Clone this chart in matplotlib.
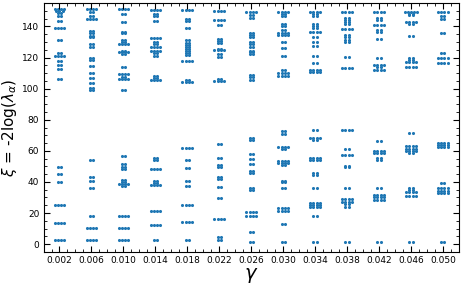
import numpy as np
import matplotlib.pyplot as plt
from matplotlib.ticker import MultipleLocator

# gamma values (x) and, per gamma, (xi value, number of points at that value)
gammas = [0.002, 0.006, 0.010, 0.014, 0.018, 0.022, 0.026,
          0.030, 0.034, 0.038, 0.042, 0.046, 0.050]

col_002 = [(151.1, 4), (149.8, 3), (148.8, 2), (147, 2), (143.6, 2), (138.9, 4), (131, 2),
           (122.8, 2), (120.7, 4), (117.7, 2), (115.1, 2), (112.5, 2), (106.5, 2),
           (49.5, 2), (44.8, 2), (39.7, 2), (25.1, 4), (13.9, 4), (2.8, 4)]
col_006 = [(151.3, 4), (149, 2), (147, 2), (144.7, 4), (137.2, 2), (135.7, 2), (134, 2),
           (133, 2), (128.8, 2), (127.1, 2), (119.8, 2), (118.5, 2), (114.7, 2), (110, 2),
           (107, 2), (103.5, 2), (100.1, 2), (99.2, 2),
           (53.8, 2), (42.9, 2), (40.3, 2), (36.4, 2), (18.4, 2), (10.5, 4), (2.8, 4)]
col_010 = [(150.9, 4), (148.1, 2), (143, 2), (136.5, 2), (135.5, 2), (131.4, 2), (129.7, 2),
           (128.6, 4), (124.5, 2), (123.7, 4), (122.4, 2), (113.8, 2), (109.5, 4), (107.8, 2),
           (106.3, 4), (99.2, 2),
           (56.4, 2), (51.4, 2), (49.9, 2), (48.4, 2), (41.4, 2), (39.7, 2), (38.6, 4),
           (37.1, 2), (18.4, 4), (10.5, 4), (2.8, 4)]
col_014 = [(150.7, 4), (148.1, 2), (146.8, 2), (143.2, 2), (132.3, 4), (129.7, 2), (128.4, 2),
           (126.7, 4), (124.1, 4), (122.8, 2), (121.3, 2), (108.3, 2), (106.8, 2), (105.3, 4),
           (55.1, 2), (53.8, 2), (48.4, 4), (40.7, 2), (39.2, 2), (37.9, 4), (21.2, 4),
           (12, 4), (2.8, 2)]
col_018 = [(150.5, 4), (145.1, 2), (143.4, 2), (139.1, 2), (131.4, 2), (129.3, 2), (128, 2),
           (126.7, 2), (125.4, 2), (124.1, 2), (122.8, 2), (121.8, 2), (117.7, 4), (105.5, 2),
           (104.4, 4),
           (62, 4), (54.2, 2), (48.9, 2), (40.7, 2), (37.1, 2), (25.1, 4), (14.1, 4), (2.8, 2)]
col_022 = [(149.8, 4), (144, 4), (141, 2), (132.1, 2), (130.8, 2), (129.5, 2), (125.8, 2),
           (124.8, 4), (122.6, 2), (120.3, 2), (106.3, 2), (104.8, 4),
           (64.1, 2), (55.3, 2), (51, 2), (49.7, 2), (42.9, 2), (41.6, 2), (36.7, 2),
           (29.6, 2), (16.3, 4), (4.3, 2), (2.8, 2)]
col_026 = [(149.6, 4), (147.3, 2), (145.3, 2), (135.9, 2), (134.6, 2), (133.3, 2), (129.7, 2),
           (128.4, 2), (127.1, 2), (124.5, 2), (123.3, 2), (122, 2), (108.9, 2), (107.4, 2),
           (105.7, 2),
           (68.2, 2), (66.7, 2), (57.9, 2), (54.9, 2), (51.4, 2), (47.2, 2), (45.7, 2),
           (36.2, 2), (34.9, 2), (20.6, 4), (18.4, 4), (7.9, 2), (1.3, 2)]
col_030 = [(149.4, 4), (148.1, 2), (146.8, 2), (141.3, 2), (140.2, 2), (137.8, 2), (136.1, 4),
           (134.8, 4), (129.7, 2), (126, 2), (121.1, 2), (112.3, 2), (109.8, 4), (108.3, 4),
           (72.7, 2), (71, 2), (62.6, 4), (61.3, 2), (53.4, 4), (52.1, 4), (50.8, 2),
           (40.9, 2), (39.7, 2), (36, 2), (23.4, 4), (21.2, 4), (13.1, 2), (1.3, 2)]
col_034 = [(149.6, 4), (148.3, 2), (146.8, 2), (141.3, 2), (140, 2), (138.7, 2), (136.3, 4),
           (133.5, 2), (130.3, 2), (127.5, 2), (120.7, 2), (116.4, 2), (111.7, 4), (110.4, 4),
           (73.7, 2), (68, 4), (66.9, 2), (55.5, 4), (54.4, 4), (45.9, 2), (44.6, 2), (36, 2),
           (26.6, 4), (25.1, 4), (23.6, 4), (18.4, 2), (1.3, 2)]
col_038 = [(149.4, 4), (145.6, 2), (144.3, 2), (142.8, 2), (141.5, 2), (138.5, 4), (134.4, 2),
           (133.1, 2), (131.4, 2), (129.9, 2), (120.3, 2), (113.4, 4),
           (73.1, 4), (61.1, 2), (57.2, 4), (50.2, 2), (49.5, 2), (36, 2), (28.9, 4),
           (27.4, 4), (25.7, 2), (23.8, 2), (1.3, 2)]
col_042 = [(149.4, 4), (145.6, 2), (144, 2), (141, 4), (138, 2), (136.5, 2), (131.8, 2),
           (119.6, 2), (115.3, 4), (114, 2), (112.1, 4),
           (66.2, 2), (59.8, 4), (58.5, 4), (55.1, 2), (54, 2), (36, 2), (31.7, 4),
           (30.2, 4), (28.5, 4), (1.3, 2)]
col_046 = [(149.4, 5), (148.3, 2), (147.3, 2), (143, 4), (141.7, 2), (133.8, 2), (119.6, 2),
           (118.1, 2), (117.3, 4), (114, 4),
           (71.2, 2), (62.8, 4), (61.5, 4), (60.2, 4), (58.9, 2), (36, 2), (34.9, 2),
           (33.7, 4), (30.7, 4), (1.3, 2)]
col_050 = [(149.4, 4), (146.4, 2), (144.9, 2), (135.9, 2), (123, 2), (119.4, 4), (116.8, 4),
           (65.2, 4), (63.9, 4), (62.6, 4), (39, 2), (35.8, 4), (34.2, 4), (32.6, 4), (1.3, 2)]

columns = [col_002, col_006, col_010, col_014, col_018, col_022, col_026,
           col_030, col_034, col_038, col_042, col_046, col_050]

fig = plt.figure(figsize=(4.63, 2.84), dpi=100)
ax = fig.add_axes([0.094, 0.113, 0.897, 0.876])

dx = 0.0004  # horizontal spacing of repeated points
xs, ys = [], []
for g, col in zip(gammas, columns):
    for val, n in col:
        off = (np.arange(n) - (n - 1) / 2) * dx
        xs.extend(g + off)
        ys.extend([val] * n)

ax.scatter(xs, ys, s=5, color='#1f77b4', linewidths=0)

ax.set_xlim(0, 0.052)
ax.set_ylim(-5, 155)
ax.set_xticks(gammas)
ax.set_xticklabels(['%.3f' % g for g in gammas])
ax.xaxis.set_minor_locator(MultipleLocator(0.001))
ax.yaxis.set_major_locator(MultipleLocator(20))
ax.yaxis.set_minor_locator(MultipleLocator(5))
ax.tick_params(which='both', direction='in', top=True, right=True, labelsize=6.5, pad=3)
ax.tick_params(which='major', length=4)
ax.tick_params(which='minor', length=2)

ax.set_xlabel(r'$\gamma$', fontsize=14, labelpad=1)
ax.set_ylabel(r'$\xi$ = -2log($\lambda_\alpha$)', fontsize=11)
ax.yaxis.set_label_coords(-0.058, 0.5)

fig.savefig('out.png', dpi=100)
